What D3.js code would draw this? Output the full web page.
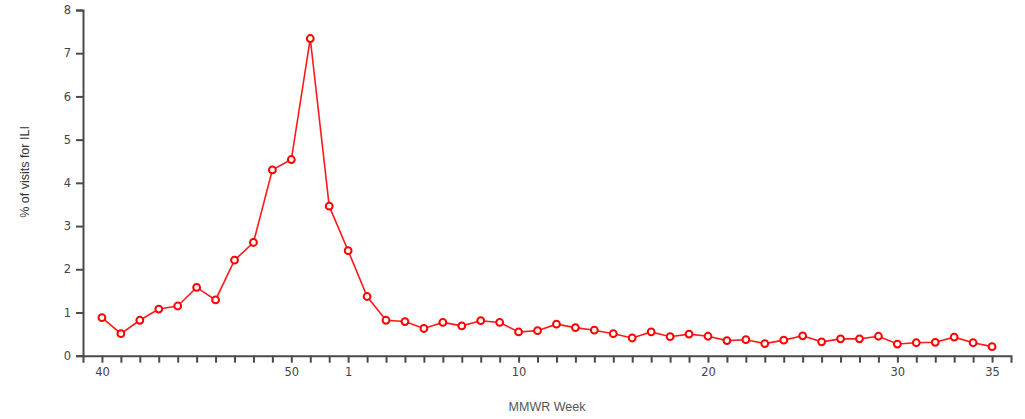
<!DOCTYPE html>
<html>
<head>
<meta charset="utf-8">
<script src="https://cdn.jsdelivr.net/npm/d3@7"></script>
<style>
  html, body { margin: 0; padding: 0; background: #fff; }
  svg { display: block; }
  .axis text { font-family: Tahoma, "DejaVu Sans", "Liberation Sans", Arial, sans-serif; font-size: 11.5px; fill: #444; }
  .axis path, .axis line { stroke: #4a4a4a; stroke-width: 2; }
  .title { font-family: "Liberation Sans", Arial, sans-serif; }
</style>
</head>
<body>
<svg id="chart" width="1025" height="419"></svg>
<script>
const weeks = [40,41,42,43,44,45,46,47,48,49,50,51,52,
  1,2,3,4,5,6,7,8,9,10,11,12,13,14,15,16,17,18,19,20,21,22,23,24,25,26,27,28,29,30,31,32,33,34,35];
const iliPercent = [0.88,0.51,0.82,1.08,1.15,1.58,1.29,2.21,2.62,4.30,4.54,7.34,3.46,
  2.43,1.37,0.82,0.79,0.63,0.77,0.69,0.81,0.77,0.55,0.58,0.73,0.65,0.59,0.51,0.41,0.55,0.44,0.50,0.45,
  0.35,0.37,0.28,0.36,0.46,0.32,0.39,0.39,0.45,0.27,0.30,0.31,0.43,0.30,0.21];
const labeledWeeks = [40,50,1,10,20,30,35];
const yTicks = [0,1,2,3,4,5,6,7,8];

const svg = d3.select("#chart");
const x = d3.scaleLinear().domain([-1, weeks.length]).range([83, 1011]);
const y = d3.scaleLinear().domain([0, 8]).range([355.7, 10]);

const xAxis = d3.axisBottom(x)
  .tickValues(d3.range(weeks.length))
  .tickSize(7).tickSizeOuter(7).tickPadding(5)
  .tickFormat(i => labeledWeeks.includes(weeks[i]) ? String(weeks[i]) : "");
svg.append("g").attr("class", "axis").attr("transform", `translate(0,${y(0)})`).call(xAxis);

const yAxis = d3.axisLeft(y).tickValues(yTicks).tickSize(7).tickSizeOuter(7).tickPadding(5).tickFormat(d3.format("d"));
svg.append("g").attr("class", "axis").attr("transform", `translate(${x(-1)},0)`).call(yAxis);

const line = d3.line().x((d, i) => x(i)).y(d => y(d));
svg.append("path").datum(iliPercent)
  .attr("d", line).attr("fill", "none")
  .attr("stroke", "#ff1a1a").attr("stroke-width", 1.6);

svg.append("g").selectAll("circle").data(iliPercent).join("circle")
  .attr("cx", (d, i) => x(i)).attr("cy", d => y(d)).attr("r", 3.4)
  .attr("fill", "#fff").attr("stroke", "#ff0000").attr("stroke-width", 2);

svg.append("text").attr("class", "title")
  .attr("x", 547).attr("y", 411).attr("text-anchor", "middle")
  .style("font-size", "12.5px").style("fill", "#555").text("MMWR Week");

svg.append("text").attr("class", "title")
  .attr("transform", "translate(29,172) rotate(-90)").attr("text-anchor", "middle")
  .style("font-size", "12.5px").style("fill", "#333").text("% of visits for ILI");
</script>
</body>
</html>
